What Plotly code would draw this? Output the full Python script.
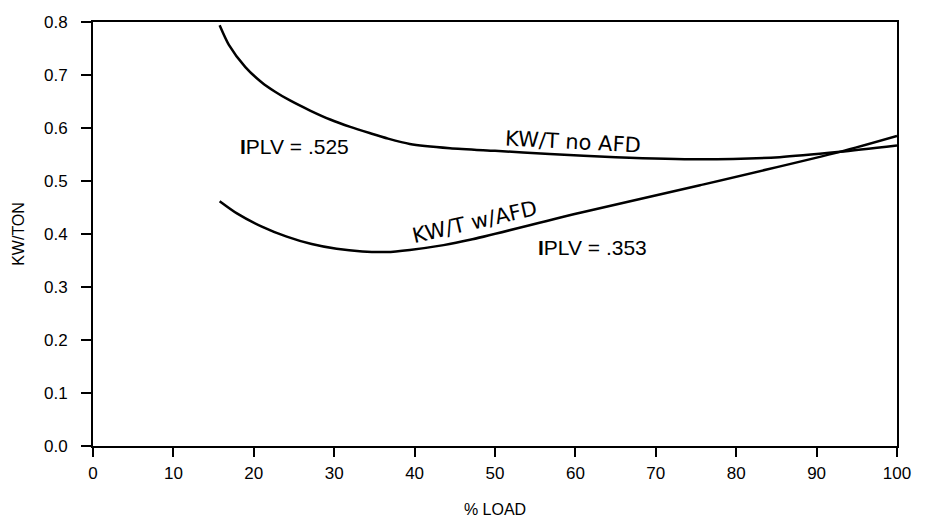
import plotly.graph_objects as go

# Data
load_no_afd = [15.75, 16.9, 18.95, 21.0, 22.6, 24.5, 27.0, 29.5, 32.0, 34.5, 36.7, 39.4, 44.4, 50.0, 56.8, 65.0, 75.5, 85.4, 92.9, 100.0]
kwt_no_afd = [0.794, 0.757, 0.715, 0.686, 0.669, 0.652, 0.633, 0.616, 0.602, 0.590, 0.580, 0.570, 0.562, 0.557, 0.551, 0.545, 0.541, 0.545, 0.555, 0.567]

load_afd = [15.75, 17.9, 21.0, 24.1, 27.2, 30.3, 33.5, 36.5, 39.4, 43.6, 46.9, 60.6, 75.5, 92.9, 100.0]
kwt_afd = [0.462, 0.439, 0.414, 0.395, 0.381, 0.372, 0.367, 0.366, 0.370, 0.379, 0.389, 0.440, 0.492, 0.555, 0.585]

x_ticks = [0, 10, 20, 30, 40, 50, 60, 70, 80, 90, 100]
y_ticks = [0.0, 0.1, 0.2, 0.3, 0.4, 0.5, 0.6, 0.7, 0.8]
y_tick_labels = ["0.0", "0.1", "0.2", "0.3", "0.4", "0.5", "0.6", "0.7", "0.8"]

fig = go.Figure()
fig.add_trace(go.Scatter(x=load_no_afd, y=kwt_no_afd, mode="lines",
                         line=dict(color="black", width=2.5, shape="spline", smoothing=0.7),
                         showlegend=False, hoverinfo="skip"))
fig.add_trace(go.Scatter(x=load_afd, y=kwt_afd, mode="lines",
                         line=dict(color="black", width=2.5, shape="spline", smoothing=0.7),
                         showlegend=False, hoverinfo="skip"))

ann_font = dict(family="Liberation Sans, Arial, sans-serif", size=21, color="black")
lbl_font = dict(family="DejaVu Sans, sans-serif", size=21, color="black")
fig.add_annotation(x=25.0, y=0.566, text="<b>I</b>PLV = .525", showarrow=False, font=ann_font)
fig.add_annotation(x=62.1, y=0.374, text="<b>I</b>PLV = .353", showarrow=False, font=ann_font)
fig.add_annotation(x=59.7, y=0.574, text="KW/T no AFD", showarrow=False, font=lbl_font, textangle=3)
fig.add_annotation(x=47.5, y=0.423, text="KW/T w/AFD", showarrow=False, font=lbl_font, textangle=-13)

axis_font = dict(family="Liberation Sans, Arial, sans-serif", size=17, color="black")
title_font = dict(family="Liberation Sans, Arial, sans-serif", size=16, color="black")
fig.update_xaxes(range=[0, 100], tickvals=x_ticks, ticks="outside", ticklen=9, tickwidth=2,
                 tickcolor="black", showline=True, linecolor="black", linewidth=2, mirror=True,
                 showgrid=False, zeroline=False, tickfont=axis_font, ticklabelstandoff=2,
                 title=dict(text="% LOAD", font=title_font, standoff=24))
fig.update_yaxes(range=[0, 0.8], tickvals=y_ticks, ticktext=y_tick_labels, ticks="outside",
                 ticklen=10, tickwidth=2, tickcolor="black", showline=True, linecolor="black",
                 linewidth=2, mirror=True, showgrid=False, zeroline=False, tickfont=axis_font,
                 ticklabelstandoff=10,
                 title=dict(text="KW/TON", font=title_font, standoff=15))
fig.update_layout(width=917, height=510, margin=dict(l=85, r=28, t=14, b=72, autoexpand=False),
                  plot_bgcolor="white", paper_bgcolor="white")
fig.write_html("out.html")
